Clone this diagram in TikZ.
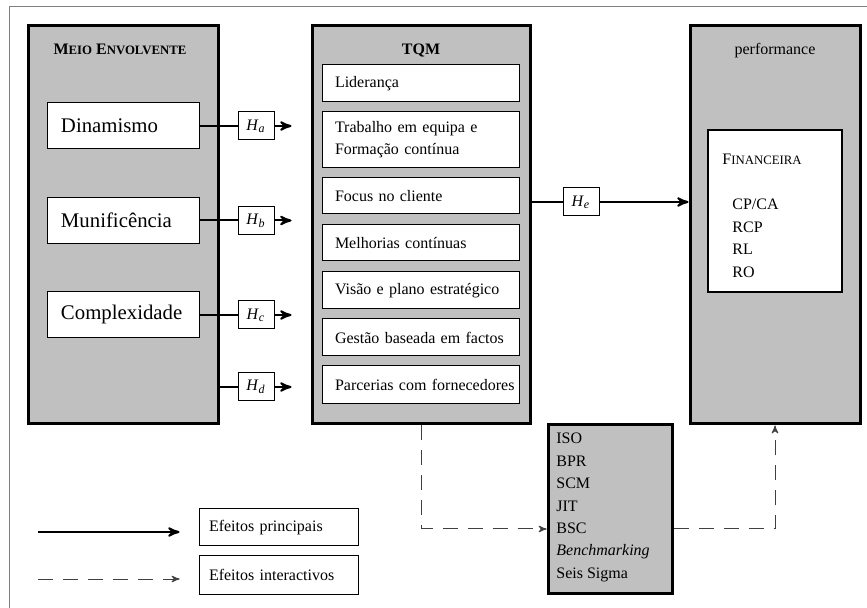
\documentclass[tikz,border=0pt]{standalone}
\usepackage{fontspec}
\setmainfont{Liberation Serif}
\usetikzlibrary{arrows,positioning}
\definecolor{boxgray}{RGB}{192,192,192}
\newcommand{\smallcap}[1]{{\fontsize{6.4}{8}\selectfont #1}}
\newcommand{\hyp}[1]{\textit{H}\textsubscript{\textit{#1}}}

\begin{document}
\begin{tikzpicture}[x=0.5pt,y=-0.5pt,font=\fontsize{8}{10}\selectfont,
  bigbox/.style={draw,line width=1.5pt,fill=boxgray,minimum width=#1,minimum height=199pt,inner sep=0pt},
  envbox/.style={draw,line width=0.5pt,fill=white,text width=62pt,inner xsep=7pt,minimum height=23pt,align=left,font=\fontsize{10.4}{12}\selectfont},
  tqmitem/.style={draw,line width=0.5pt,fill=white,text width=85.5pt,inner xsep=6.5pt,minimum height=18.5pt,align=left,font=\fontsize{8}{11}\selectfont},
  hbox/.style={draw,line width=0.5pt,fill=white,minimum width=18pt,minimum height=14pt,inner sep=0pt},
  legbox/.style={draw,line width=0.5pt,fill=white,text width=69.5pt,inner xsep=5pt,minimum height=18.5pt,align=left},
  listitem/.style={anchor=base west,inner sep=0pt},
  mainline/.style={line width=1pt},
  mainarrow/.style={line width=1pt,-stealth'},
  dasharrow/.style={line width=0.5pt,black!75,dash pattern=on 7.5pt off 5pt,-stealth'}]
\useasboundingbox (0,0) rectangle (867,608);
\draw[gray,line width=0.5pt] (9,7) rectangle (885,630);

% meio envolvente
\node[bigbox=95pt] (meio) at (123,225) {};
\node[anchor=base] (meiotitle) at (120,55) {\textbf{M\smallcap{EIO} E\smallcap{NVOLVENTE}}};
\node[envbox] (dinamismo) at (123,126) {Dinamismo};
\node[envbox] (munificencia) at (123,220.5) {Munificência};
\node[envbox] (complexidade) at (123,315) {Complexidade};

% tqm
\node[bigbox=109pt] (tqm) at (421,225) {};
\node[anchor=base] (tqmtitle) at (421,55) {\textbf{TQM}};
\node[tqmitem] (lideranca) at (420.5,83.5) {Liderança};
\node[tqmitem,minimum height=28pt] (trabalho) at (420.5,140) {Trabalho em equipa e\\Formação contínua};
\node[tqmitem,minimum height=18pt] (focus) at (420.5,196) {Focus no cliente};
\node[tqmitem,minimum height=18pt] (melhorias) at (420.5,243) {Melhorias contínuas};
\node[tqmitem] (visao) at (420.5,290.5) {Visão e plano estratégico};
\node[tqmitem] (gestao) at (420.5,337.5) {Gestão baseada em factos};
\node[tqmitem,minimum height=19pt] (parcerias) at (420.5,385) {\mbox{Parcerias com fornecedores}};

% performance
\node[bigbox=85pt] (perf) at (775,225) {};
\node[anchor=base] (perftitle) at (775,55) {performance};
\node[draw,line width=1.2pt,fill=white,minimum width=67pt,minimum height=81pt] (fin) at (775,211) {};
\node[listitem] (fintitle) at (722,165) {F\smallcap{INANCEIRA}};
\foreach \t [count=\i from 0] in {CP/CA,RCP,RL,RO}
  \node[listitem] (fin\i) at (732,210+22.4*\i) {\t};

% hipoteses
\node[hbox] (ha) at (256,126) {\hyp{a}};
\node[hbox] (hb) at (256,220.5) {\hyp{b}};
\node[hbox] (hc) at (256,315) {\hyp{c}};
\node[hbox] (hd) at (256,387) {\hyp{d}};
\node[hbox] (he) at (581,202) {\hyp{e}};

\draw[mainline] (dinamismo) -- (ha);
\draw[mainline] (munificencia) -- (hb);
\draw[mainline] (complexidade) -- (hc);
\draw[mainline] (hd -| meio.east) -- (hd);
\foreach \h in {ha,hb,hc,hd}
  \draw[mainarrow,shorten >=9.5pt] (\h) -- (\h -| tqm.west);
\draw[mainline] (tqm.east |- he) -- (he);
\draw[mainarrow] (he) -- (he -| perf.west);

% ferramentas
\node[draw,line width=1.5pt,fill=boxgray,minimum width=62pt,minimum height=84pt] (tools) at (610,509) {};
\foreach \t [count=\i from 0] in {ISO,BPR,SCM,JIT,BSC,\textit{Benchmarking},Seis Sigma}
  \node[listitem] (tool\i) at (556,444+22.4*\i) {\t};
\coordinate (dashlevel) at (421,529);
\draw[dasharrow] (tqm.south) |- (tools.west |- dashlevel);
\draw[dasharrow] (tools.east |- dashlevel) -| (perf.south);

% legenda
\node[legbox] (principal) at (278.5,527.5) {Efeitos principais};
\node[legbox,minimum height=19pt] (interactivo) at (278.5,575) {Efeitos interactivos};
\coordinate (solidstart) at (38,532);
\coordinate (dashstart) at (38,579);
\draw[mainarrow,shorten >=9.5pt] (solidstart) -- (solidstart -| principal.west);
\draw[dasharrow,shorten >=9.5pt] (dashstart) -- (dashstart -| interactivo.west);
\end{tikzpicture}
\end{document}
